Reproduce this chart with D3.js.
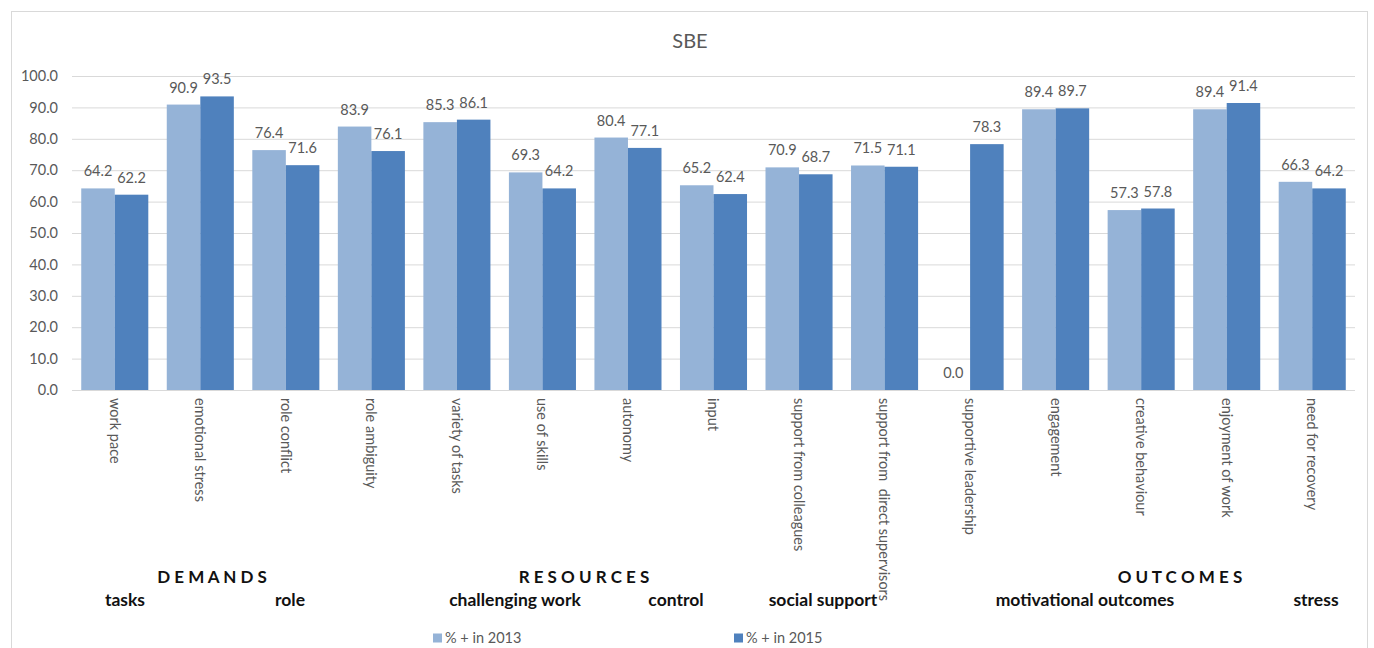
<!DOCTYPE html>
<html>
<head>
<meta charset="utf-8">
<script src="https://cdn.jsdelivr.net/npm/d3@7/dist/d3.min.js"></script>
<style>
  html, body { margin: 0; padding: 0; background: #fff; }
  svg { display: block; font-family: Lato, "Open Sans", "Liberation Sans", sans-serif; }
</style>
</head>
<body>
<svg id="chart" width="1374" height="648"></svg>
<script>
// Scale items, grouped by domain
const categories = [
  "work pace", "emotional stress", "role conflict", "role ambiguity",
  "variety of tasks", "use of skills", "autonomy", "input",
  "support from colleagues", "support from  direct supervisors",
  "supportive leadership", "engagement", "creative behaviour",
  "enjoyment of work", "need for recovery"
];
const seriesNames = ["% + in 2013", "% + in 2015"];
const values2013 = [64.2, 90.9, 76.4, 83.9, 85.3, 69.3, 80.4, 65.2, 70.9, 71.5, 0.0, 89.4, 57.3, 89.4, 66.3];
const values2015 = [62.2, 93.5, 71.6, 76.1, 86.1, 64.2, 77.1, 62.4, 68.7, 71.1, 78.3, 89.7, 57.8, 91.4, 64.2];
const yTicks = [0, 10, 20, 30, 40, 50, 60, 70, 80, 90, 100];

const domainLabels = ["D E M A N D S", "R E S O U R C E S", "O U T C O M E S"];
const subgroupLabels = ["tasks", "role", "challenging work", "control", "social support", "motivational outcomes", "stress"];

const colors = ["#95B3D7", "#4F81BD"];
const textGray = "#595959";
const labelSize = 14.5;

const svg = d3.select("#chart");

// chart frame
svg.append("rect")
  .attr("x", 11.5).attr("y", 11.5)
  .attr("width", 1356).attr("height", 660)
  .attr("fill", "none").attr("stroke", "#d9d9d9");

const plot = { left: 72, right: 1355, top: 76, bottom: 390 };

const x0 = d3.scaleBand()
  .domain(categories)
  .range([plot.left, plot.right])
  .paddingInner(0.216)
  .paddingOuter(0.108);

const x1 = d3.scaleBand()
  .domain([0, 1])
  .range([0, x0.bandwidth()]);

const y = d3.scaleLinear().domain([0, 100]).range([plot.bottom, plot.top]);

// title
svg.append("text")
  .attr("x", 690).attr("y", 48)
  .attr("text-anchor", "middle")
  .attr("fill", textGray)
  .attr("font-size", 20)
  .text("SBE");

// gridlines and y labels
const yAxis = d3.axisLeft(y)
  .tickValues(yTicks)
  .tickSize(-(plot.right - plot.left))
  .tickPadding(14)
  .tickFormat(d3.format(".1f"));

const yg = svg.append("g")
  .attr("transform", `translate(${plot.left},0)`)
  .call(yAxis);
yg.select(".domain").remove();
yg.selectAll(".tick line").attr("stroke", "#d9d9d9");
yg.selectAll(".tick text")
  .attr("fill", textGray)
  .attr("font-size", labelSize)
  .attr("font-family", "Lato, 'Open Sans', sans-serif");

// bars
const data = categories.map((c, i) => ({ c, v: [values2013[i], values2015[i]] }));

const groups = svg.append("g").selectAll("g")
  .data(data)
  .join("g")
  .attr("transform", d => `translate(${x0(d.c)},0)`);

groups.selectAll("rect")
  .data(d => d.v.map((v, s) => ({ v, s })))
  .join("rect")
  .attr("x", d => x1(d.s))
  .attr("width", x1.bandwidth())
  .attr("y", d => y(d.v))
  .attr("height", d => y(0) - y(d.v))
  .attr("fill", d => colors[d.s]);

groups.selectAll("text")
  .data(d => d.v.map((v, s) => ({ v, s })))
  .join("text")
  .attr("x", d => x1(d.s) + x1.bandwidth() / 2)
  .attr("y", d => y(d.v) - 12)
  .attr("text-anchor", "middle")
  .attr("fill", textGray)
  .attr("font-size", labelSize)
  .text(d => d3.format(".1f")(d.v));

// baseline
svg.append("line")
  .attr("x1", plot.left).attr("x2", plot.right)
  .attr("y1", y(0) + 0.5).attr("y2", y(0) + 0.5)
  .attr("stroke", "#d9d9d9");

// rotated category labels
svg.append("g").selectAll("text")
  .data(categories)
  .join("text")
  .attr("transform", d => `translate(${x0(d) + x0.bandwidth() / 2},398) rotate(90)`)
  .attr("dy", "0.35em")
  .attr("fill", textGray)
  .attr("font-size", labelSize)
  .attr("xml:space", "preserve")
  .style("white-space", "pre")
  .text(d => d);

// domain headings
const domainX = [212, 584, 1180];
svg.append("g").selectAll("text")
  .data(domainLabels)
  .join("text")
  .attr("x", (d, i) => domainX[i])
  .attr("y", 583)
  .attr("text-anchor", "middle")
  .attr("font-size", 17)
  .attr("font-weight", "bold")
  .attr("fill", "#111")
  .attr("xml:space", "preserve")
  .text(d => d);

// sub-group headings
const subX = [125, 290, 515, 676, 823, 1085, 1316];
svg.append("g").selectAll("text")
  .data(subgroupLabels)
  .join("text")
  .attr("x", (d, i) => subX[i])
  .attr("y", 606)
  .attr("text-anchor", "middle")
  .attr("font-size", 17.5)
  .attr("font-weight", "bold")
  .attr("fill", "#111")
  .text(d => d);

// legend
const legendX = [433, 734];
const lg = svg.append("g").selectAll("g")
  .data(seriesNames)
  .join("g")
  .attr("transform", (d, i) => `translate(${legendX[i]},638)`);
lg.append("rect")
  .attr("x", 0).attr("y", -4.5)
  .attr("width", 9).attr("height", 9)
  .attr("fill", (d, i) => colors[i]);
lg.append("text")
  .attr("x", 12).attr("y", 0)
  .attr("dy", "0.35em")
  .attr("fill", textGray)
  .attr("font-size", labelSize)
  .text(d => d);
</script>
</body>
</html>
